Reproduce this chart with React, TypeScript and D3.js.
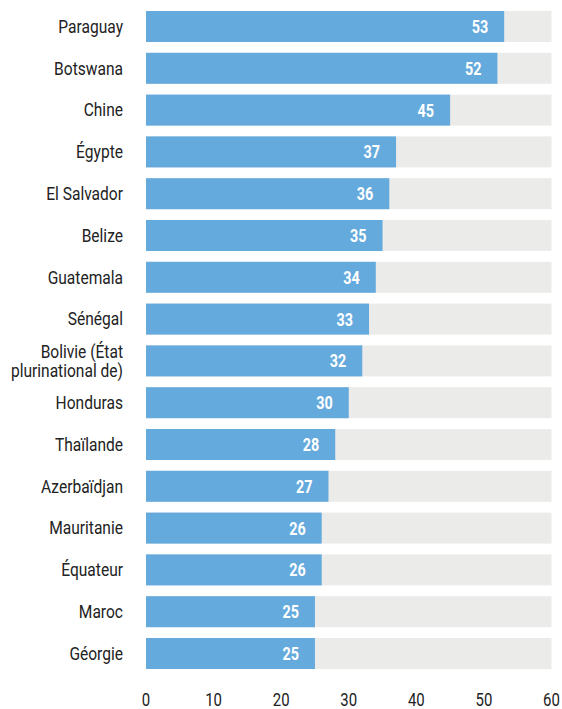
import React from "react";
import * as d3 from "d3";

const countries = [
  "Paraguay",
  "Botswana",
  "Chine",
  "Égypte",
  "El Salvador",
  "Belize",
  "Guatemala",
  "Sénégal",
  "Bolivie (État\nplurinational de)",
  "Honduras",
  "Thaïlande",
  "Azerbaïdjan",
  "Mauritanie",
  "Équateur",
  "Maroc",
  "Géorgie",
];
const values = [53, 52, 45, 37, 36, 35, 34, 33, 32, 30, 28, 27, 26, 26, 25, 25];
const ticks = [0, 10, 20, 30, 40, 50, 60];

const W = 562;
const H = 709;
const FONT = "Roboto, 'Liberation Sans', sans-serif";

export default function App() {
  const x = d3.scaleLinear().domain([0, 60]).range([146, 551.5]);
  const y = d3
    .scaleBand<string>()
    .domain(countries)
    .range([11, 669])
    .paddingInner(0.258)
    .paddingOuter(0);
  const bw = y.bandwidth();

  return (
    <svg
      width={W}
      height={H}
      style={{ position: "absolute", left: 0, top: 0, background: "#fff" }}
      fontFamily={FONT}
    >
      {countries.map((c, i) => {
        const y0 = y(c)!;
        const cy = y0 + bw / 2;
        const lines = c.split("\n");
        const lh = 19;
        return (
          <g key={c}>
            <rect x={x(0)} y={y0} width={x(60) - x(0)} height={bw} fill="#ebebea" />
            <rect x={x(0)} y={y0} width={x(values[i]) - x(0)} height={bw} fill="#65aadc" />
            <text
              transform={`translate(${x(values[i]) - 16},${cy + 6.5}) scale(0.8,1)`}
              textAnchor="end"
              fill="#fff"
              fontWeight="bold"
              fontSize={18}
            >
              {values[i]}
            </text>
            <text
              transform={`translate(123,${cy + 6.3 - ((lines.length - 1) * lh) / 2}) scale(0.89,1)`}
              textAnchor="end"
              fill="#222"
              fontSize={17.5}
            >
              {lines.map((l, k) => (
                <tspan key={k} x={0} y={k * lh}>
                  {l}
                </tspan>
              ))}
            </text>
          </g>
        );
      })}
      {ticks.map((t) => (
        <text
          key={t}
          transform={`translate(${x(t)},706) scale(0.83,1)`}
          textAnchor="middle"
          fill="#222"
          fontSize={18}
        >
          {t}
        </text>
      ))}
    </svg>
  );
}
